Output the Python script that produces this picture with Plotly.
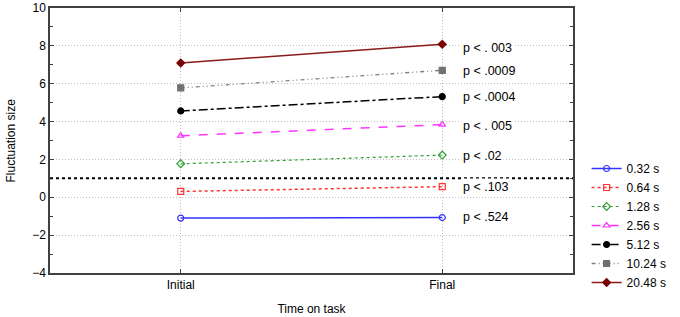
import plotly.graph_objects as go

time_points = ["Initial", "Final"]
series_names = ["0.32 s", "0.64 s", "1.28 s", "2.56 s", "5.12 s", "10.24 s", "20.48 s"]
initial_vals = [-1.10, 0.31, 1.77, 3.25, 4.56, 5.78, 7.10]
final_vals = [-1.07, 0.56, 2.23, 3.84, 5.32, 6.71, 8.08]
p_labels = ["p < .524", "p < .103", "p < .02", "p < . 005", "p < .0004", "p < .0009", "p < . 003"]
p_label_y = [-1.02, 0.56, 2.20, 3.78, 5.32, 6.66, 7.91]
threshold = 1.0

colors = ["#3333ff", "#ff3333", "#33a033", "#ff33ff", "#000000", "#808080", "#8b1a1a"]
marker_colors = ["#3333ff", "#ff3333", "#33a033", "#ff33ff", "#000000", "#707070", "#7a0000"]
dashes = ["solid", "dot", "dot", "dash", "dashdot", "4px,3px,1px,3px,1px,3px", "solid"]
symbols = ["circle-open", "square-open", "diamond-open", "triangle-up-open", "circle", "square", "diamond"]
widths = [1.5, 1.5, 1.2, 1.5, 1.5, 1.3, 1.5]

fig = go.Figure()
for i, name in enumerate(series_names):
    fig.add_trace(go.Scatter(
        x=[0, 1], y=[initial_vals[i], final_vals[i]], name=name,
        mode="lines+markers",
        line=dict(color=colors[i], dash=dashes[i], width=widths[i]),
        marker=dict(symbol=symbols[i], size=6, color=marker_colors[i],
                    line=dict(color=marker_colors[i], width=1.2)),
    ))

for lab, yv in zip(p_labels, p_label_y):
    fig.add_annotation(x=1, y=yv, xref="x", yref="y", text=lab, showarrow=False,
                       xanchor="left", xshift=19, bgcolor="white",
                       font=dict(size=12.5, color="#000000"))

fig.add_shape(type="line", xref="paper", yref="y", x0=0, x1=1, y0=threshold, y1=threshold,
              line=dict(color="black", width=2, dash="dot"))

fig.add_annotation(text="Fluctuation size", xref="paper", yref="paper",
                   x=0, y=0.5, xshift=-40, textangle=-90, showarrow=False,
                   xanchor="center", yanchor="middle", font=dict(size=12))

font_family = "Liberation Sans, Arial, sans-serif"
grid_dash = "1px,2px"
fig.update_layout(
    width=680, height=317,
    margin=dict(l=50, r=99, t=8, b=44),
    paper_bgcolor="white", plot_bgcolor="white",
    font=dict(family=font_family, size=12, color="#000000"),
    showlegend=True,
    legend=dict(x=1.026, y=0.449, xanchor="left", yanchor="top",
                font=dict(size=12), tracegroupgap=0, itemwidth=30,
                bgcolor="rgba(0,0,0,0)"),
    xaxis=dict(
        range=[-0.5, 1.5], tickvals=[0, 1], ticktext=time_points,
        showgrid=True, gridcolor="#c0c0c0", griddash=grid_dash, gridwidth=1,
        showline=True, linecolor="#404040", linewidth=1.5, mirror="ticks",
        ticks="inside", ticklen=4, tickcolor="#404040", zeroline=False,
        automargin=False,
        title=dict(text="Time on task", standoff=13, font=dict(size=12)),
    ),
    yaxis=dict(
        range=[-4, 10], tickvals=[-4, -2, 0, 2, 4, 6, 8, 10],
        showgrid=True, gridcolor="#c0c0c0", griddash=grid_dash, gridwidth=1,
        showline=True, linecolor="#404040", linewidth=1.5, mirror="ticks",
        ticks="inside", ticklen=4, tickcolor="#404040", zeroline=False,
        automargin=False,
        minor=dict(tickvals=[-3, -1, 1, 3, 5, 7, 9], ticks="inside", ticklen=3,
                   tickcolor="#404040", showgrid=False),
        tickfont=dict(size=12),
    ),
)

fig.write_html("out.html", config={"displayModeBar": False},
               post_script="document.body.style.margin='0';document.body.style.padding='0';")
